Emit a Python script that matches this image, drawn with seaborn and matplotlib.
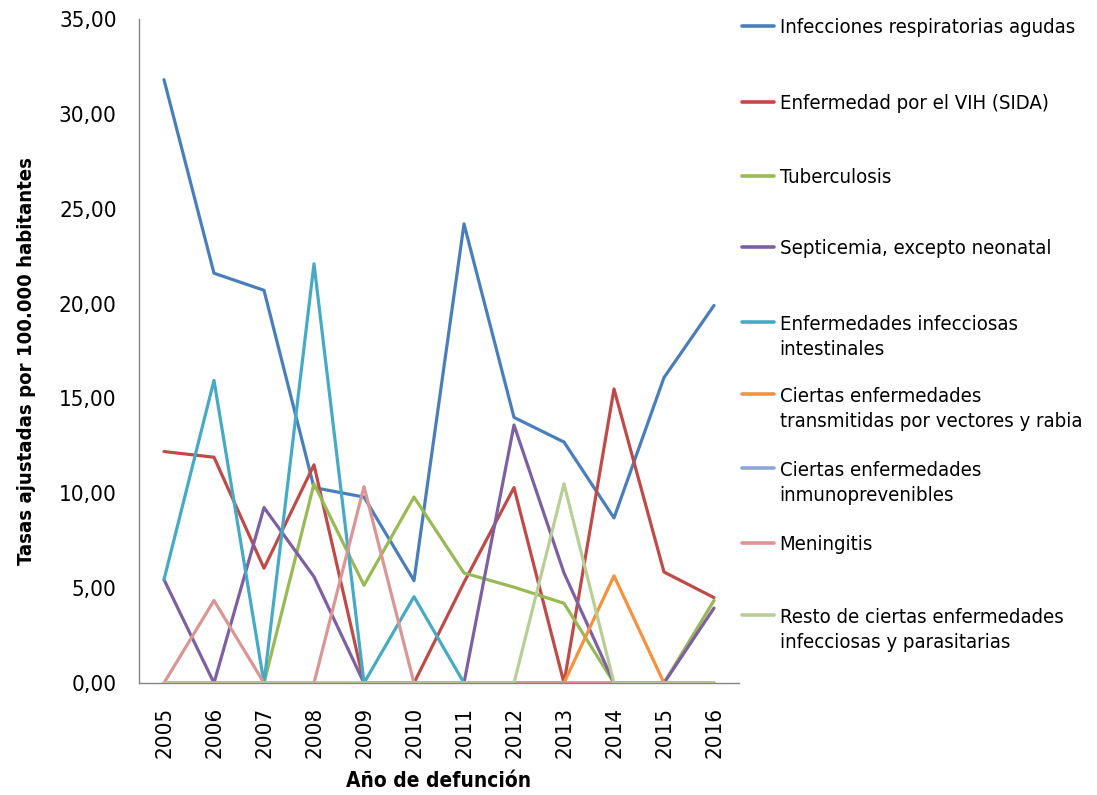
import numpy as np
import pandas as pd
import seaborn as sns
import matplotlib
matplotlib.use("Agg")
import matplotlib.pyplot as plt
from matplotlib.ticker import FuncFormatter, MultipleLocator

# data
years = [2005, 2006, 2007, 2008, 2009, 2010, 2011, 2012, 2013, 2014, 2015, 2016]

causes = [
    "Infecciones respiratorias agudas",
    "Enfermedad por el VIH (SIDA)",
    "Tuberculosis",
    "Septicemia, excepto neonatal",
    "Enfermedades infecciosas\nintestinales",
    "Ciertas enfermedades\ntransmitidas por vectores y rabia",
    "Ciertas enfermedades\ninmunoprevenibles",
    "Meningitis",
    "Resto de ciertas enfermedades\ninfecciosas y parasitarias",
]

respiratorias = [31.8, 21.6, 20.7, 10.3, 9.8, 5.4, 24.2, 14.0, 12.7, 8.7, 16.1, 19.9]
vih = [12.2, 11.9, 6.05, 11.5, 0, 0, 5.3, 10.3, 0, 15.5, 5.85, 4.5]
tuberculosis = [0, 0, 0, 10.5, 5.15, 9.8, 5.8, 5.05, 4.2, 0, 0, 4.35]
septicemia = [5.45, 0, 9.25, 5.6, 0, 0, 0, 13.6, 5.8, 0, 0, 3.95]
intestinales = [5.45, 15.95, 0, 22.1, 0, 4.55, 0, 0, 0, 0, 0, 0]
vectores = [0, 0, 0, 0, 0, 0, 0, 0, 0, 5.65, 0, 0]
inmunoprevenibles = [0, 0, 0, 0, 0, 0, 0, 0, 0, 0, 0, 0]
meningitis = [0, 4.35, 0, 0, 10.35, 0, 0, 0, 0, 0, 0, 0]
resto = [0, 0, 0, 0, 0, 0, 0, 0, 10.5, 0, 0, 0]

series = [respiratorias, vih, tuberculosis, septicemia, intestinales,
          vectores, inmunoprevenibles, meningitis, resto]

colors = ["#4A7EBB", "#BE4B48", "#98B954", "#7D60A0", "#46AAC5",
          "#F59240", "#8BA8D6", "#D99694", "#B9CD96"]

df = pd.DataFrame({
    "year": years * len(causes),
    "value": np.concatenate(series),
    "cause": np.repeat(causes, len(years)),
})

sns.set_style("white")
plt.rcParams["font.family"] = ["DejaVu Sans"]
plt.rcParams["font.stretch"] = "condensed"
plt.rcParams["text.color"] = "black"
plt.rcParams["axes.labelcolor"] = "black"
fs = 14.6

W, H = 1097, 795
fig = plt.figure(figsize=(W / 100, H / 100), dpi=100)
ax = fig.add_axes([139 / W, 1 - 683 / H, 600 / W, 664 / H])

sns.lineplot(data=df, x="year", y="value", hue="cause", hue_order=causes,
             palette=colors, linewidth=2.3, ax=ax, legend=True)

handles, labels = ax.get_legend_handles_labels()
ax.get_legend().remove()

ax.set_xlim(2004.5, 2016.5)
ax.set_ylim(0, 35)
ax.yaxis.set_major_locator(MultipleLocator(5))
ax.yaxis.set_major_formatter(FuncFormatter(lambda v, p: f"{v:.2f}".replace(".", ",")))
ax.set_xticks(years)
ax.set_xticklabels([str(y) for y in years], rotation=90)
ax.set_xticks(np.arange(2004.5, 2017, 1), minor=True)

gray = "#868686"
for s in ["top", "right"]:
    ax.spines[s].set_visible(False)
for s in ["left", "bottom"]:
    ax.spines[s].set_color(gray)
    ax.spines[s].set_linewidth(1.0)

ax.tick_params(axis="y", which="major", direction="out", length=6, width=1,
               color=gray, labelcolor="black", labelsize=16, pad=10)
ax.tick_params(axis="x", which="major", length=0, labelcolor="black", labelsize=16, pad=17)
ax.tick_params(axis="x", which="minor", direction="out", length=6, width=1, color=gray)

ax.set_xlabel("Año de defunción", fontsize=15, fontweight="bold")
ax.set_ylabel("Tasas ajustadas por 100.000 habitantes", fontsize=14.6, fontweight="bold")
ax.xaxis.set_label_coords(0.5, -0.133)
ax.yaxis.set_label_coords(-0.172, 0.485)

# legend entries placed one by one, like the Excel layout (pixel row of first text line)
first_line_px = [30, 106, 180, 251, 327, 399, 473, 547, 620]
for h, lab, ypx in zip(handles, labels, first_line_px):
    leg = fig.legend([h], [lab], loc="upper left",
                     bbox_to_anchor=(742 / W, 1 - (ypx - 12) / H),
                     frameon=False, fontsize=fs, handlelength=1.6,
                     handletextpad=0.25, borderaxespad=0, borderpad=0)
    leg.get_texts()[0].set_linespacing(1.4)
    leg.get_texts()[0].set_color("black")
    line = leg.legend_handles[0]
    line.set_linewidth(2.6)
    if "\n" in lab:
        # put the key line next to the first text line
        line.set_ydata(np.asarray(line.get_ydata()) + 11)

fig.savefig("out.png", dpi=100)
